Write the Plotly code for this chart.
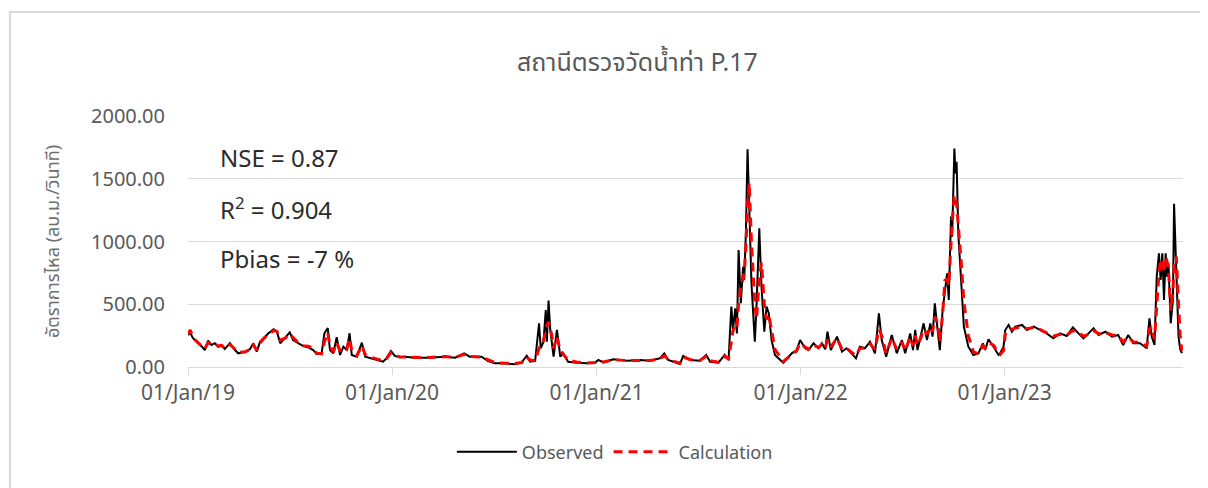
import pandas as pd
import plotly.graph_objects as go

START_DATE = '2019-01-01'

# days since 01/Jan/19
days = [
    0, 4, 9, 13, 19, 25, 30, 36, 42, 48, 54, 60, 66, 75, 84, 90, 102, 111, 117, 123,
    129, 135, 144, 153, 159, 165, 174, 182, 188, 197, 206, 215, 224, 230, 239, 244,
    250, 254, 260, 266, 272, 278, 284, 289, 293, 302, 311, 317, 329, 340, 349, 355, 363,
    370, 379, 388, 406, 430, 460, 478, 494, 504, 525, 537, 549, 567, 585, 597,
    606, 612, 621, 628, 631, 636, 640, 642, 645, 648, 651, 654, 660, 666, 671,
    680, 695, 713, 728,
    734, 743, 761, 785, 809, 827, 844, 852, 859, 880, 886, 898, 916, 927, 934,
    949, 960, 967, 972, 975, 979, 982, 985, 989, 993, 995, 998, 1001, 1004, 1008,
    1014, 1017, 1022, 1026, 1031, 1035, 1039, 1044, 1050, 1065, 1080, 1089, 1095,
    1104, 1110, 1119, 1128, 1134, 1140, 1144, 1150, 1161, 1170, 1178, 1187, 1195, 1202, 1211,
    1220, 1229, 1236, 1241, 1249, 1259, 1268, 1277, 1283, 1292, 1297, 1301, 1305, 1311, 1316,
    1322, 1328, 1332, 1336, 1341, 1345, 1350, 1354, 1358, 1361, 1365, 1367, 1371, 1373, 1375,
    1378, 1383, 1388, 1396, 1405, 1414, 1422, 1426, 1432, 1441, 1450, 1453,
    1459, 1462, 1468, 1474, 1480, 1492, 1501, 1513, 1524, 1536, 1548, 1560, 1572, 1583, 1593,
    1602, 1611, 1620, 1629, 1641, 1653, 1664, 1673, 1682, 1691, 1703, 1715, 1720, 1724, 1729,
    1733, 1737, 1740, 1743, 1746, 1749, 1751, 1754, 1758, 1762, 1764, 1768, 1772, 1775, 1778,
]

observed = [
    255, 270, 230, 215, 185, 162, 135, 210, 175, 190, 162, 175, 143, 190, 135, 109, 122, 143, 189, 122,
    202, 229, 269, 300, 281, 189, 237, 277, 215, 189, 167, 157, 135, 104, 109, 269,
    310, 135, 109, 237, 96, 162, 135, 269, 96, 82, 194, 82, 69, 56, 42, 69, 127,
    88, 77, 82, 74, 74, 82, 74, 109, 82, 82, 48, 29, 29, 21, 37,
    90, 42, 48, 348, 149, 202, 454, 202, 530, 300, 202, 82, 295, 82, 109,
    42, 34, 29, 34,
    56, 37, 61, 50, 56, 50, 69, 109, 56, 24, 88, 56, 50, 96, 42,
    34, 96, 56, 481, 295, 468, 268, 932, 508, 799, 693, 1065, 1735, 1277, 667,
    202, 481, 1105, 640, 281, 481, 428, 215, 96, 34, 109, 135, 215,
    149, 135, 189, 149, 189, 141, 281, 135, 242, 122, 149, 109, 69, 162, 149,
    202, 109, 428, 215, 82, 255, 109, 215, 109, 268, 135, 295, 135, 242, 348,
    215, 348, 242, 508, 295, 135, 454, 587, 747, 534, 1198, 1038, 1740, 1543, 1636,
    1065, 693, 321, 162, 96, 109, 189, 135, 221, 162, 96, 109,
    162, 295, 335, 281, 321, 335, 295, 321, 295, 268, 229, 268, 247, 316, 268,
    229, 268, 308, 255, 281, 242, 255, 175, 255, 189, 189, 149, 388, 242, 175,
    720, 906, 693, 906, 534, 906, 720, 826, 348, 534, 1300, 693, 242, 140, 110,
]

calculation = [
    260, 295, 240, 215, 190, 165, 145, 195, 180, 185, 168, 172, 150, 180, 140, 118, 120, 140, 175, 135,
    190, 225, 260, 290, 285, 215, 230, 265, 235, 195, 170, 165, 150, 110, 105, 200,
    275, 170, 120, 190, 130, 150, 140, 230, 130, 90, 170, 100, 75, 60, 50, 65, 115,
    95, 80, 80, 76, 75, 84, 76, 100, 85, 80, 55, 35, 30, 28, 35,
    80, 55, 50, 150, 180, 210, 300, 330, 360, 310, 250, 150, 240, 130, 100,
    55, 40, 32, 35,
    50, 40, 58, 52, 55, 52, 65, 90, 60, 30, 80, 60, 52, 85, 50,
    38, 85, 65, 200, 290, 330, 310, 500, 650, 700, 750, 950, 1300, 1470, 1000,
    500, 380, 700, 830, 500, 380, 420, 300, 140, 45, 100, 130, 190,
    160, 140, 175, 155, 180, 150, 220, 160, 230, 140, 150, 115, 90, 150, 150,
    185, 140, 300, 250, 110, 230, 140, 200, 130, 240, 170, 250, 170, 230, 300,
    260, 320, 280, 400, 350, 200, 420, 690, 700, 650, 1000, 1150, 1370, 1350, 1300,
    1150, 850, 520, 250, 120, 105, 170, 150, 195, 175, 110, 100,
    130, 260, 300, 300, 310, 320, 305, 315, 300, 275, 245, 260, 255, 290, 275,
    245, 260, 290, 265, 275, 255, 250, 200, 240, 200, 195, 165, 300, 320, 220,
    500, 750, 860, 820, 750, 880, 850, 780, 450, 600, 820, 880, 500, 250, 130,
]

assert len(days) == len(observed) == len(calculation)

dates = pd.Timestamp(START_DATE) + pd.to_timedelta(days, unit='D')

stats = ['NSE = 0.87', 'R<sup>2</sup> = 0.904', 'Pbias = -7 %']

FONT = 'Noto Sans, Open Sans, Noto Sans Thai, Tahoma, sans-serif'
GREY = '#595959'
GRID = '#d9d9d9'

fig = go.Figure()
fig.add_trace(
    go.Scatter(
        x=dates,
        y=observed,
        mode='lines',
        name='Observed',
        line=dict(color='black', width=2),
    )
)
fig.add_trace(
    go.Scatter(
        x=dates,
        y=calculation,
        mode='lines',
        name='Calculation',
        line=dict(color='#ff0000', width=3, dash='9px,6px'),
    )
)

for i, txt in enumerate(stats):
    fig.add_annotation(
        x=0.03, y=0.833 - i * 0.2,
        xref='paper', yref='paper',
        xanchor='left', yanchor='middle',
        text=txt, showarrow=False,
        font=dict(size=24, color='#2b2b2b', family=FONT),
    )

# outer chart border (Excel style)
fig.add_shape(
    type='rect', xref='paper', yref='paper',
    x0=-0.179, x1=1.08, y0=-0.8, y1=1.414,
    line=dict(color=GRID, width=2),
)

# the page body adds an 8px offset, so margins are trimmed by 8 on left/top
fig.update_layout(
    width=1208,
    height=488,
    paper_bgcolor='white',
    plot_bgcolor='white',
    font=dict(family=FONT, color=GREY, size=20),
    title=dict(
        text='สถานีตรวจวัดน้ำท่า P.17',
        x=0.521, y=0.889, xanchor='center', yanchor='middle',
        font=dict(size=25, color=GREY),
    ),
    xaxis=dict(
        type='date',
        range=['2019-01-01', '2023-11-16'],
        tickvals=['2019-01-01', '2020-01-01', '2021-01-01', '2022-01-01', '2023-01-01'],
        tickformat='%d/%b/%y',
        showgrid=False,
        showline=True, linecolor=GRID, linewidth=1,
        ticks='outside', ticklen=7, tickcolor=GRID,
        zeroline=False,
        tickfont=dict(size=21, color=GREY),
    ),
    yaxis=dict(
        range=[0, 2000],
        dtick=500,
        tickformat='.2f',
        showgrid=True, gridcolor=GRID, gridwidth=1,
        zeroline=False,
        ticks='', ticklabelstandoff=22,
        tickfont=dict(size=20, color=GREY),
        title=dict(text='อัตราการไหล (ลบ.ม./วินาที)', font=dict(size=18, color='#6e6e6e'), standoff=26),
    ),
    legend=dict(
        orientation='h',
        x=0.429, y=-0.339,
        xanchor='center', yanchor='middle',
        font=dict(size=18, color=GREY),
        itemwidth=60,
    ),
    showlegend=True,
    margin=dict(l=180, r=33, t=108, b=129, autoexpand=False),
)

fig.write_html('out.html')
